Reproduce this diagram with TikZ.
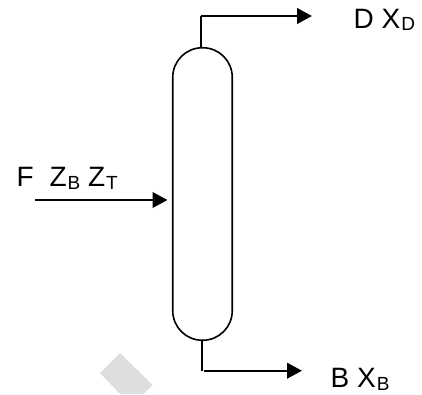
\documentclass[tikz,border=0pt]{standalone}
\usepackage{fontspec}
\setmainfont{Liberation Sans}
\usetikzlibrary{arrows.meta, positioning}
\definecolor{MarkGray}{HTML}{DEDEDE}
\newcommand{\subtxt}[1]{\kern1pt\raisebox{-2.5pt}{\fontsize{19}{19}\selectfont #1}}
\begin{document}
\begin{tikzpicture}[
  x=1pt, y=-1pt,
  column/.style={draw=black, line width=1.6pt, rectangle, rounded corners=29.5pt,
    minimum width=59.5pt, minimum height=292.5pt},
  label/.style={anchor=base west, inner sep=0pt, font=\fontsize{28}{32}\selectfont},
  stream/.style={line width=2.4pt, -{Triangle[length=15pt, width=15.5pt]}},
  stub/.style={line width=1.6pt}
]
\useasboundingbox (0,0) rectangle (422,394);
\fill[MarkGray] (120,353) -- (152.5,385) -- (143.5,394) -- (120,394) -- (100,373) -- cycle;
\node[column] (col) at (202.5,194) {};
% feed
\coordinate (feedin) at (35,200);
\coordinate (feedout) at (167.5,200);
\draw[stream] (feedin) -- (feedout);
\node[label] (feed) at (16.5,186.7) {F\hspace{8pt} Z\subtxt{B} Z\subtxt{T}};
% top product
\coordinate (topa) at (200.7,47.5);
\coordinate (topb) at (200.7,16);
\coordinate (topc) at (312,16);
\draw[stub] (topa) -- (topb);
\draw[stream] (topb) -- (topc);
\node[label] (dist) at (353.5,28) {D X\subtxt{D}};
% bottom product
\coordinate (bota) at (202,341);
\coordinate (botb) at (202,370.7);
\coordinate (botc) at (204,370.7);
\coordinate (botd) at (302,370.7);
\draw[stub] (bota) -- (botb);
\draw[stream] (botc) -- (botd);
\node[label] (bott) at (330.5,387.7) {B X\subtxt{B}};
\end{tikzpicture}
\end{document}
